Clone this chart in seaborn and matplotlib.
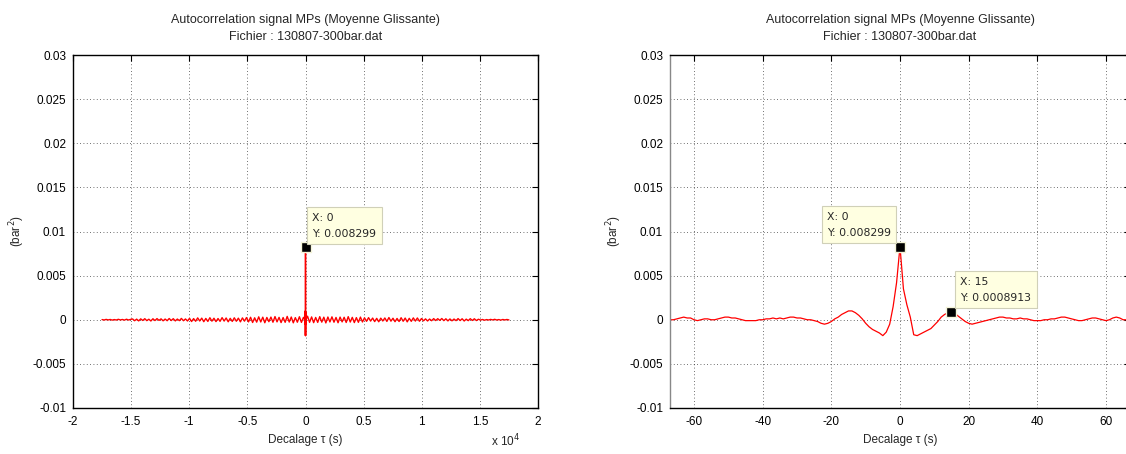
import numpy as np
import pandas as pd
import matplotlib
matplotlib.use("Agg")
import matplotlib.pyplot as plt
import seaborn as sns

# ---------------- data ----------------
title_line1 = "Autocorrelation signal MPs (Moyenne Glissante)"
title_line2 = "Fichier : 130807-300bar.dat"
xlabel = "Decalage τ (s)"
ylabel = "(bar$^2$)"

# central part of the autocorrelation (lag in s, value in bar^2)
center_lags = list(range(-67, 68))
center_vals = [
    0.0000, 0.0000, 0.0001, 0.0002, 0.0003, 0.0002, 0.0002, 0.0000, -0.0001, 0.0000,   # -67..-58
    0.0001, 0.0001, 0.0000, 0.0000, 0.0001, 0.0002, 0.0003, 0.0003, 0.0002, 0.0002,    # -57..-48
    0.0001, 0.0000, -0.0001, -0.0001, -0.0001, -0.0001, 0.0000, 0.0000, 0.0001, 0.0001, # -47..-38
    0.0002, 0.0001, 0.0002, 0.0001, 0.0002, 0.0003, 0.0003, 0.0002, 0.0002, 0.0001,    # -37..-28
    0.0000, 0.0000, -0.0001, -0.0002, -0.0004, -0.0005, -0.0004, -0.0002, 0.0001, 0.0003, # -27..-18
    0.0006, 0.0008, 0.0010, 0.0010, 0.0008, 0.0005, 0.0001, -0.0004, -0.0008, -0.0011,  # -17..-8
    -0.0013, -0.0015, -0.0018, -0.0014, -0.0005, 0.0015, 0.0042, 0.008299, 0.0035, 0.0017, # -7..2
    0.0003, -0.0017, -0.0018, -0.0016, -0.0014, -0.0012, -0.0010, -0.0006, -0.0002, 0.0003, # 3..12
    0.0006, 0.0008, 0.0008913, 0.0007, 0.0004, 0.0001, -0.0002, -0.0004, -0.0005, -0.0004, # 13..22
    -0.0003, -0.0002, -0.0001, 0.0000, 0.0001, 0.0002, 0.0003, 0.0003, 0.0002, 0.0002,  # 23..32
    0.0001, 0.0001, 0.0002, 0.0001, 0.0001, 0.0000, -0.0001, -0.0001, -0.0001, 0.0000,  # 33..42
    0.0000, 0.0001, 0.0001, 0.0002, 0.0003, 0.0003, 0.0002, 0.0001, 0.0000, -0.0001,   # 43..52
    -0.0001, 0.0000, 0.0001, 0.0002, 0.0002, 0.0001, 0.0000, -0.0001, 0.0000, 0.0002,  # 53..62
    0.0003, 0.0002, 0.0000, 0.0000, 0.0001,                                            # 63..67
]

# full lag range: reading of the noise band every 175 s (units of 1e-4 bar^2)
noise_lags = list(range(-17500, 17501, 175))
noise_vals_e4 = [
    # -17500 .. -15050
    0.2, -0.3, 0.4, -0.2, 0.3, -0.4, 0.2, -0.3, 0.5, -0.2, 0.3, -0.4, 0.6, -0.3, 0.4,
    # -14875 .. -10150
    0.9, -1.1, 0.7, -1.3, 1.0, -0.8, 1.2, -1.0, 0.6, -1.4,
    1.1, -0.9, 1.3, -0.7, 1.0, -1.2, 0.8, -1.1, 1.4, -0.9,
    1.2, -1.3, 0.8, -1.0, 1.5, -1.1, 0.9, -1.4,
    # -9975 .. -5075
    1.6, -2.0, 1.3, -1.7, 2.1, -1.4, 1.8, -2.2, 1.5, -1.9,
    2.3, -1.6, 1.7, -2.1, 1.4, -1.8, 2.4, -1.5, 2.0, -2.3,
    1.6, -1.9, 2.2, -1.7, 1.8, -2.4, 2.1, -1.6, 2.5,
    # -4900 .. 4900
    -2.4, 2.8, -3.1, 2.2, -2.7, 3.3, -2.5, 2.9, -3.4, 2.6,
    -2.2, 3.0, -2.8, 3.6, -2.4, 2.7, -3.2, 2.5, -2.9, 3.8,
    -2.6, 3.1, -3.5, 2.4, -2.8, 3.4, -3.0, 2.7, -3.7, 4.0,
    -2.9, 3.2, -3.3, 2.6, -3.0, 3.5, -2.7, 2.9, -3.6, 3.1,
    -2.5, 3.3, -2.8, 2.6, -3.4, 3.0, -2.4, 2.8, -3.1, 3.5,
    -2.6, 2.7, -3.2, 2.4, -2.9, 3.0, -2.5,
    # 5075 .. 9975
    2.2, -1.8, 2.4, -1.5, 1.9, -2.1, 1.6, -2.3, 1.8, -1.4,
    2.0, -1.9, 2.5, -1.6, 1.7, -2.2, 1.5, -2.0, 2.3, -1.7,
    1.9, -2.4, 1.6, -1.8, 2.1, -1.5, 2.0, -1.7, 1.4,
    # 10150 .. 14875
    -1.2, 1.0, -1.4, 0.8, -1.1, 1.3, -0.9, 1.2, -0.7, 1.4,
    -1.0, 1.1, -1.3, 0.9, -1.2, 0.8, -1.0, 1.3, -0.9, 1.1,
    -1.4, 0.7, -1.0, 1.2, -0.8, 1.1, -0.9, 0.6,
    # 15050 .. 17500
    -0.4, 0.3, -0.5, 0.2, -0.3, 0.4, -0.2, 0.5, -0.3, 0.2, -0.4, 0.3, -0.2, 0.3, -0.2,
]

yticks = [-0.01, -0.005, 0, 0.005, 0.01, 0.015, 0.02, 0.025, 0.03]
ytick_labels = ["-0.01", "-0.005", "0", "0.005", "0.01", "0.015", "0.02", "0.025", "0.03"]
left_xticks = [-20000, -15000, -10000, -5000, 0, 5000, 10000, 15000, 20000]
left_xtick_labels = ["-2", "-1.5", "-1", "-0.5", "0", "0.5", "1", "1.5", "2"]
right_xticks = [-60, -40, -20, 0, 20, 40, 60]
right_xtick_labels = ["-60", "-40", "-20", "0", "20", "40", "60"]

tips_left = [(0, 0.008299, "X: 0\nY: 0.008299")]
tips_right = [(0, 0.008299, "X: 0\nY: 0.008299"), (15, 0.0008913, "X: 15\nY: 0.0008913")]

# ---------------- build frames ----------------
center = pd.DataFrame({"lag": center_lags, "val": center_vals})
noise = pd.DataFrame({"lag": noise_lags, "val": np.array(noise_vals_e4) * 1e-4})
noise = noise[noise["lag"].abs() > 67]
full = pd.concat([noise, center]).sort_values("lag").reset_index(drop=True)

# ---------------- style ----------------
sns.set_style("white")
plt.rcParams["font.family"] = ["Liberation Sans", "DejaVu Sans"]
FS = 8.5

W, H = 1126, 454
fig = plt.figure(figsize=(W / 100, H / 100), dpi=100)
fig.patch.set_facecolor("white")

ax1 = fig.add_axes([73 / W, 1 - 408 / H, 465 / W, 353 / H])
ax2 = fig.add_axes([670 / W, 1 - 408 / H, 460 / W, 353 / H])


def style(ax, xticks, xlabels, xlim, spine_left_color="black"):
    ax.set_ylim(-0.01, 0.03)
    ax.set_xlim(*xlim)
    ax.set_yticks(yticks)
    ax.set_yticklabels(ytick_labels)
    ax.set_xticks(xticks)
    ax.set_xticklabels(xlabels)
    ax.tick_params(direction="in", top=True, right=True, length=4, width=0.8,
                   labelsize=FS, colors="black")
    ax.tick_params(axis="x", pad=6)
    ax.tick_params(axis="y", pad=5)
    ax.grid(True, linestyle=(0, (1, 3)), color="black", linewidth=0.6, alpha=0.75)
    for s in ax.spines.values():
        s.set_visible(True)
        s.set_color("black")
        s.set_linewidth(1.0)
    ax.spines["left"].set_color(spine_left_color)
    ax.set_xlabel(xlabel, fontsize=FS, labelpad=4)
    ax.set_ylabel(ylabel, fontsize=FS, labelpad=4)
    ax.set_title(title_line1 + "\n" + title_line2, fontsize=9, pad=11, linespacing=1.55)


def tips(ax, items, offsets, aligns):
    for (x, y, txt), off, (ha, va) in zip(items, offsets, aligns):
        ax.plot([x], [y], marker="s", markersize=6.5, color="black",
                markeredgecolor="#f4f4d8", markeredgewidth=1.0, zorder=6)
        ax.annotate(txt, xy=(x, y), xytext=off, textcoords="offset pixels",
                    ha=ha, va=va, multialignment="left", fontsize=7.8,
                    family=["DejaVu Sans"], linespacing=1.75, zorder=7,
                    bbox=dict(boxstyle="square,pad=0.5", fc="#ffffe1", ec="#d0d0b8", lw=0.8))


sns.lineplot(data=full, x="lag", y="val", ax=ax1, color="red", linewidth=1.0,
             estimator=None, sort=False)
style(ax1, left_xticks, left_xtick_labels, (-20000, 20000))
ax1.text(0.962, -0.07, "x 10$^4$", transform=ax1.transAxes, ha="right", va="top", fontsize=FS)
tips(ax1, tips_left, [(7, 8)], [("left", "bottom")])

sns.lineplot(data=center, x="lag", y="val", ax=ax2, color="red", linewidth=0.9,
             estimator=None, sort=False)
style(ax2, right_xticks, right_xtick_labels, (-67, 67), spine_left_color="#888888")
tips(ax2, tips_right, [(-9, 9), (9, 9)], [("right", "bottom"), ("left", "bottom")])

fig.savefig("out.png", dpi=100, facecolor="white")
